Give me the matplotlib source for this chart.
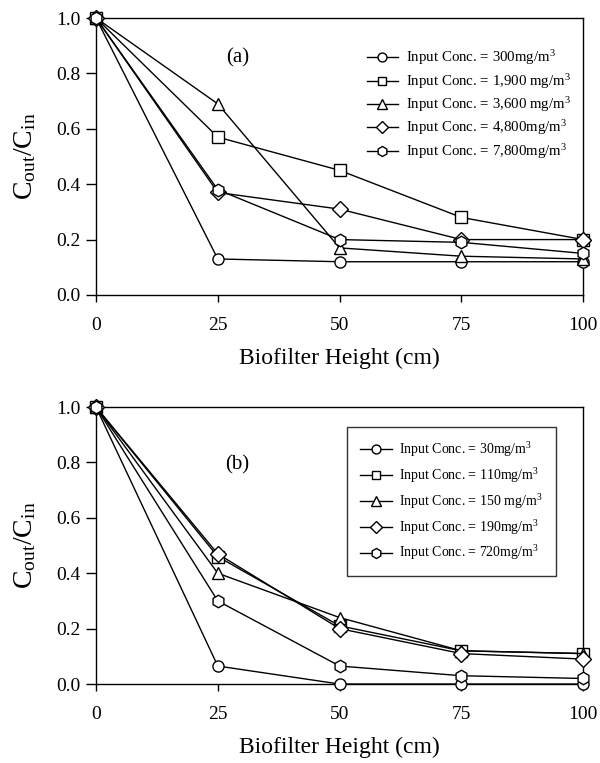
import matplotlib
matplotlib.use('Agg')
import matplotlib.pyplot as plt

plt.rcParams['font.family'] = ['Liberation Serif', 'DejaVu Serif']
plt.rcParams['mathtext.fontset'] = 'custom'
plt.rcParams['mathtext.rm'] = 'Liberation Serif'
plt.rcParams['mathtext.it'] = 'Liberation Serif:italic'

# data
height = [0, 25, 50, 75, 100]
markers = ['o', 's', '^', 'D', 'h']

labels_a = ['Input Conc. = 300mg/m$^3$',
            'Input Conc. = 1,900 mg/m$^3$',
            'Input Conc. = 3,600 mg/m$^3$',
            'Input Conc. = 4,800mg/m$^3$',
            'Input Conc. = 7,800mg/m$^3$']
a_300 = [1.0, 0.13, 0.12, 0.12, 0.12]
a_1900 = [1.0, 0.57, 0.45, 0.28, 0.20]
a_3600 = [1.0, 0.69, 0.17, 0.14, 0.13]
a_4800 = [1.0, 0.37, 0.31, 0.20, 0.20]
a_7800 = [1.0, 0.38, 0.20, 0.19, 0.15]

labels_b = ['Input Conc. = 30mg/m$^3$',
            'Input Conc. = 110mg/m$^3$',
            'Input Conc. = 150 mg/m$^3$',
            'Input Conc. = 190mg/m$^3$',
            'Input Conc. = 720mg/m$^3$']
b_30 = [1.0, 0.065, 0.0, 0.0, 0.0]
b_110 = [1.0, 0.46, 0.21, 0.12, 0.11]
b_150 = [1.0, 0.40, 0.24, 0.12, 0.11]
b_190 = [1.0, 0.47, 0.20, 0.11, 0.09]
b_720 = [1.0, 0.30, 0.065, 0.03, 0.02]

fig = plt.figure(figsize=(6, 7.63), dpi=100)
ax1 = fig.add_axes([0.16, 0.6134, 0.812, 0.363])
ax2 = fig.add_axes([0.16, 0.1035, 0.812, 0.363])

msizes = {'o': 8, 's': 8, '^': 9, 'D': 8, 'h': 9}


def draw(ax, series, labels, tag, tagpos, framed):
    for ys, m, lab in zip(series, markers, labels):
        ax.plot(height, ys, color='black', lw=1.0, marker=m,
                markersize=msizes[m], markerfacecolor='white',
                markeredgecolor='black', markeredgewidth=1.0,
                label=lab, clip_on=False, zorder=3)
    ax.set_xlim(0, 100)
    ax.set_ylim(0, 1.0)
    ax.set_xticks([0, 25, 50, 75, 100])
    ax.set_yticks([0.0, 0.2, 0.4, 0.6, 0.8, 1.0])
    ax.set_yticklabels(['0.0', '0.2', '0.4', '0.6', '0.8', '1.0'])
    ax.tick_params(direction='out', width=1, labelsize=14,
                   top=False, right=False, color='black')
    ax.tick_params(axis='x', length=5, pad=11)
    ax.tick_params(axis='y', length=7, pad=4)
    for s in ax.spines.values():
        s.set_linewidth(1.0)
        s.set_color('black')
    ax.set_xlabel('Biofilter Height (cm)', fontsize=17, labelpad=10)
    ax.set_ylabel(r'$\mathrm{C_{out}/C_{in}}$', fontsize=20, labelpad=13)
    ax.text(tagpos[0], tagpos[1], tag, transform=ax.transAxes, fontsize=15,
            ha='center', va='center')
    if framed:
        leg = ax.legend(loc='upper left', bbox_to_anchor=(0.515, 0.928),
                        fontsize=10, handlelength=2.3, labelspacing=0.5,
                        handletextpad=0.5, markerscale=0.8,
                        borderaxespad=0, frameon=True, fancybox=False,
                        edgecolor='black', borderpad=0.95)
        leg.get_frame().set_linewidth(1.0)
    else:
        ax.legend(loc='upper left', bbox_to_anchor=(0.556, 0.89),
                  fontsize=10.7, handlelength=2.1, labelspacing=0.3,
                  handletextpad=0.55, markerscale=0.8,
                  borderaxespad=0, frameon=False, borderpad=0)


draw(ax1, [a_300, a_1900, a_3600, a_4800, a_7800], labels_a, '(a)',
     (0.29, 0.856), False)
draw(ax2, [b_30, b_110, b_150, b_190, b_720], labels_b, '(b)',
     (0.29, 0.79), True)

plt.savefig('out.png', dpi=100)
